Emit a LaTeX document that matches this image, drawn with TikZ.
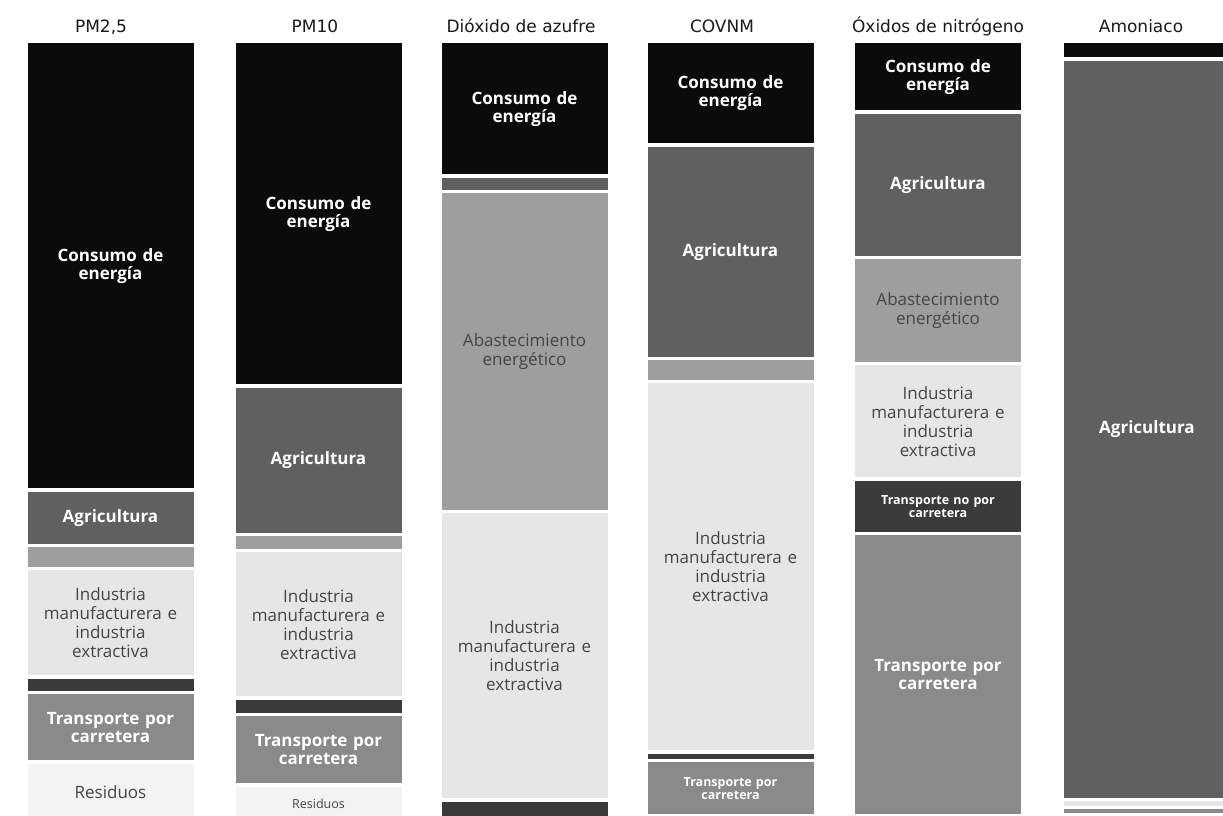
\documentclass[tikz,border=0pt]{standalone}
\usepackage{fontspec}
\setmainfont{Open Sans}
\newfontfamily\titlefont{DejaVu Sans}
\usepackage{tikz}
\usetikzlibrary{positioning}
\definecolor{consumo}{HTML}{0B0B0B}
\definecolor{agri}{HTML}{606060}
\definecolor{abast}{HTML}{9E9E9E}
\definecolor{indus}{HTML}{E6E6E6}
\definecolor{tnoc}{HTML}{3A3A3A}
\definecolor{tpor}{HTML}{8A8A8A}
\definecolor{resid}{HTML}{F3F3F3}
\definecolor{labelgray}{HTML}{454545}
\definecolor{titlegray}{HTML}{1A1A1A}
\tikzstyle{seg} = [rectangle, inner sep=0pt, minimum width=166pt, text width=160pt, align=center, node distance=3pt]
\tikzstyle{title} = [anchor=base, text=titlegray, font=\titlefont\fontsize{17}{20}\selectfont]
\tikzstyle{bigwhite} = [text=white, font=\bfseries\fontsize{17}{18}\selectfont]
\tikzstyle{biggray} = [text=labelgray, font=\fontsize{17}{19}\selectfont]
\tikzstyle{smallwhite} = [text=white, font=\bfseries\fontsize{12.5}{13}\selectfont]
\tikzstyle{smallgray} = [text=labelgray, font=\fontsize{12.5}{14}\selectfont]

\begin{document}
\begin{tikzpicture}[x=1pt, y=-1pt]
\useasboundingbox (0,0) rectangle (1223,816);
\clip (0,0) rectangle (1223,816);
\fill[white] (0,0) rectangle (1223,816);

% PM2,5
\node (tPMa) [title] at (101,33) {PM2,5};
\node (pmA-cons) [seg, bigwhite, fill=consumo, minimum height=445pt, anchor=north] at (110.5,43) {Consumo de\\energía};
\node (pmA-agri) [seg, bigwhite, fill=agri, minimum height=52pt, below=of pmA-cons] {Agricultura};
\node (pmA-abast) [seg, fill=abast, minimum height=20pt, below=of pmA-agri] {};
\node (pmA-ind) [seg, biggray, fill=indus, minimum height=105pt, below=of pmA-abast] {Industria\\manufacturera e\\industria\\extractiva};
\node (pmA-tno) [seg, fill=tnoc, minimum height=12pt, below=of pmA-ind] {};
\node (pmA-tpor) [seg, bigwhite, fill=tpor, minimum height=66pt, below=of pmA-tno] {Transporte por\\carretera};
\node (pmA-res) [seg, biggray, fill=resid, minimum height=58pt, below=of pmA-tpor] {Residuos};

% PM10
\node (tPMb) [title] at (315,33) {PM10};
\node (pmB-cons) [seg, bigwhite, fill=consumo, minimum height=341pt, anchor=north] at (318.5,43) {Consumo de\\energía};
\node (pmB-agri) [seg, bigwhite, fill=agri, minimum height=145pt, below=of pmB-cons] {Agricultura};
\node (pmB-abast) [seg, fill=abast, minimum height=13pt, below=of pmB-agri] {};
\node (pmB-ind) [seg, biggray, fill=indus, minimum height=144pt, below=of pmB-abast] {Industria\\manufacturera e\\industria\\extractiva};
\node (pmB-tno) [seg, fill=tnoc, minimum height=13pt, below=of pmB-ind] {};
\node (pmB-tpor) [seg, bigwhite, fill=tpor, minimum height=67pt, below=of pmB-tno] {Transporte por\\carretera};
\node (pmB-res) [seg, smallgray, fill=resid, minimum height=34pt, below=of pmB-tpor] {Residuos};

% dioxido de azufre
\node (tSO) [title] at (521,33) {Dióxido de azufre};
\node (so2-cons) [seg, bigwhite, fill=consumo, minimum height=131pt, anchor=north] at (524.5,43) {Consumo de\\energía};
\node (so2-agri) [seg, fill=agri, minimum height=12pt, below=of so2-cons] {};
\node (so2-abast) [seg, biggray, fill=abast, minimum height=317pt, below=of so2-agri] {Abastecimiento\\energético};
\node (so2-ind) [seg, biggray, fill=indus, minimum height=285pt, below=of so2-abast] {Industria\\manufacturera e\\industria\\extractiva};
\node (so2-tno) [seg, fill=tnoc, minimum height=25pt, below=of so2-ind] {};

% COVNM
\node (tCOV) [title] at (722,33) {COVNM};
\node (cov-cons) [seg, bigwhite, fill=consumo, minimum height=100pt, anchor=north] at (730.5,43) {Consumo de\\energía};
\node (cov-agri) [seg, bigwhite, fill=agri, minimum height=210pt, below=of cov-cons] {Agricultura};
\node (cov-abast) [seg, fill=abast, minimum height=20pt, below=of cov-agri] {};
\node (cov-ind) [seg, biggray, fill=indus, minimum height=367pt, below=of cov-abast] {Industria\\manufacturera e\\industria\\extractiva};
\node (cov-tno) [seg, fill=tnoc, minimum height=5pt, below=of cov-ind] {};
\node (cov-tpor) [seg, smallwhite, fill=tpor, minimum height=52pt, below=of cov-tno] {Transporte por\\carretera};

% oxidos de nitrogeno
\node (tNOX) [title] at (938,33) {Óxidos de nitrógeno};
\node (nox-cons) [seg, bigwhite, fill=consumo, minimum height=67pt, anchor=north] at (938,43) {Consumo de\\energía};
\node (nox-agri) [seg, bigwhite, fill=agri, minimum height=142pt, below=of nox-cons] {Agricultura};
\node (nox-abast) [seg, biggray, fill=abast, minimum height=103pt, below=of nox-agri] {Abastecimiento\\energético};
\node (nox-ind) [seg, biggray, fill=indus, minimum height=112pt, below=of nox-abast] {Industria\\manufacturera e\\industria\\extractiva};
\node (nox-tno) [seg, smallwhite, fill=tnoc, minimum height=51pt, below=of nox-ind] {Transporte no por\\carretera};
\node (nox-tpor) [seg, bigwhite, fill=tpor, minimum height=279pt, below=of nox-tno] {Transporte por\\carretera};

% amoniaco
\node (tNH) [title] at (1141,33) {Amoniaco};
\node (nh3-cons) [seg, fill=consumo, minimum height=14pt, anchor=north] at (1147,43) {};
\node (nh3-agri) [seg, bigwhite, fill=agri, minimum height=737pt, below=of nh3-cons] {Agricultura};
\node (nh3-ind) [seg, fill=indus, minimum height=5pt, below=of nh3-agri] {};
\node (nh3-tpor) [seg, fill=tpor, minimum height=4pt, below=of nh3-ind] {};
\end{tikzpicture}
\end{document}
